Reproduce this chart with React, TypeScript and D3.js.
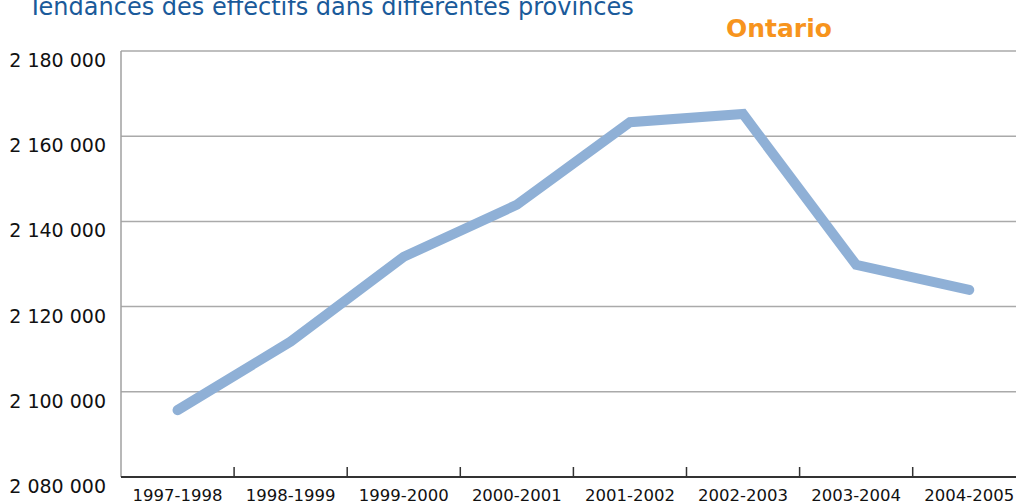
import React from "react";
import * as d3 from "d3";

const categories = ["1997-1998", "1998-1999", "1999-2000", "2000-2001", "2001-2002", "2002-2003", "2003-2004", "2004-2005"];
const enrolment = [2095700, 2111800, 2131700, 2143900, 2163300, 2165200, 2129800, 2123900];
const yTicks = [2080000, 2100000, 2120000, 2140000, 2160000, 2180000];
const title = "Tendances des effectifs dans différentes provinces";
const province = "Ontario";

const W = 1016;
const H = 504;
const left = 121;
const top = 51;
const bottom = 477;
const bandW = 113.1;

const fmt = (v: number) => d3.format(",")(v).replace(/,/g, " ");

export default function App() {
  const x = d3.scaleBand<string>().domain(categories).range([left, left + bandW * categories.length]);
  const y = d3.scaleLinear().domain([2080000, 2180000]).range([bottom, top]);
  const line = d3
    .line<number>()
    .x((_, i) => (x(categories[i]) as number) + x.bandwidth() / 2)
    .y((d) => y(d));
  const font = "'DejaVu Sans', 'Open Sans', sans-serif";
  return (
    <svg width={W} height={H} style={{ position: "absolute", left: 0, top: 0, background: "#fff" }}>
      <text x={28} y={15} fontFamily={font} fontSize={24} fill="#1a5a9a" fontWeight={400}>
        {title}
      </text>
      <text x={726} y={36.5} fontFamily={font} fontSize={25} fill="#f7941d" fontWeight={700}>
        {province}
      </text>
      {yTicks.map((t) => (
        <g key={t}>
          {t !== 2080000 && (
            <line x1={left} x2={W} y1={y(t)} y2={y(t)} stroke="#aaaaaa" strokeWidth={1.5} />
          )}
          <text x={106} y={y(t) + 16} textAnchor="end" fontFamily={font} fontSize={19} fill="#111">
            {fmt(t)}
          </text>
        </g>
      ))}
      <line x1={left} x2={left} y1={top} y2={bottom} stroke="#a0a0a0" strokeWidth={1.5} />
      <path d={line(enrolment) || ""} fill="none" stroke="#8fb0d6" strokeWidth={10} strokeLinecap="round" strokeLinejoin="miter" />
      <line x1={left} x2={W} y1={bottom} y2={bottom} stroke="#333" strokeWidth={2} />
      {categories.slice(1).map((c) => (
        <line key={c} x1={x(c)} x2={x(c)} y1={bottom} y2={bottom - 10} stroke="#333" strokeWidth={1.5} />
      ))}
      {categories.map((c) => (
        <text
          key={c}
          x={(x(c) as number) + x.bandwidth() / 2}
          y={501}
          textAnchor="middle"
          fontFamily={font}
          fontSize={16.5}
          fill="#111"
        >
          {c}
        </text>
      ))}
    </svg>
  );
}
